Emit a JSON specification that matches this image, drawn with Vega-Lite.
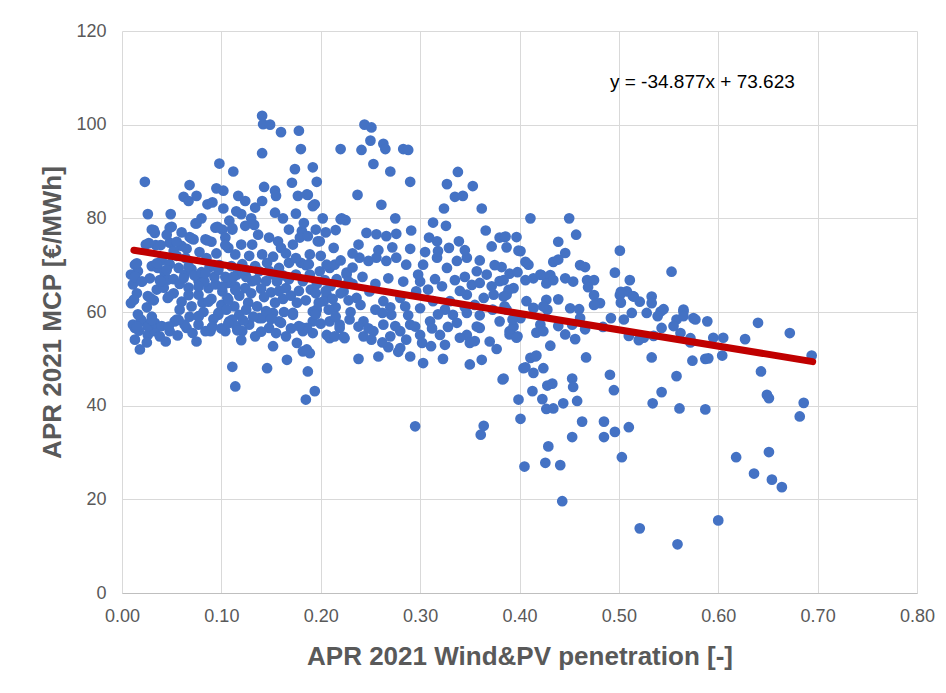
{
"$schema": "https://vega.github.io/schema/vega-lite/v6.json",
"width": 795, "height": 562,
"autosize": {"type": "none"},
"padding": {"left": 122, "top": 31, "right": 29, "bottom": 100},
"background": "white",
"config": {"view": {"stroke": null}, "font": "Liberation Sans"},
"datasets": {
"pts": [
{"x":0.141,"y":101.9},{"x":0.142,"y":100.1},{"x":0.149,"y":100.0},{"x":0.160,"y":98.4},{"x":0.178,"y":98.7},{"x":0.180,"y":94.8},{"x":0.141,"y":93.9},{"x":0.220,"y":94.8},{"x":0.098,"y":91.7},{"x":0.112,"y":90.0},{"x":0.174,"y":90.5},{"x":0.192,"y":90.9},{"x":0.171,"y":87.6},{"x":0.196,"y":87.8},{"x":0.023,"y":87.8},{"x":0.068,"y":87.1},{"x":0.062,"y":84.6},{"x":0.067,"y":83.7},{"x":0.075,"y":84.8},{"x":0.095,"y":86.4},{"x":0.102,"y":85.9},{"x":0.143,"y":86.7},{"x":0.154,"y":85.9},{"x":0.155,"y":84.8},{"x":0.177,"y":84.8},{"x":0.187,"y":85.0},{"x":0.026,"y":80.9},{"x":0.049,"y":80.9},{"x":0.086,"y":83.0},{"x":0.091,"y":83.4},{"x":0.102,"y":82.1},{"x":0.117,"y":84.8},{"x":0.124,"y":83.7},{"x":0.120,"y":80.9},{"x":0.134,"y":82.3},{"x":0.141,"y":83.7},{"x":0.154,"y":81.2},{"x":0.192,"y":82.6},{"x":0.202,"y":80.0},{"x":0.220,"y":79.8},{"x":0.225,"y":79.6},{"x":0.030,"y":77.6},{"x":0.033,"y":76.9},{"x":0.048,"y":78.0},{"x":0.074,"y":78.9},{"x":0.094,"y":78.0},{"x":0.101,"y":77.6},{"x":0.111,"y":77.6},{"x":0.124,"y":78.4},{"x":0.133,"y":78.6},{"x":0.168,"y":77.6},{"x":0.181,"y":77.3},{"x":0.195,"y":77.6},{"x":0.024,"y":74.4},{"x":0.034,"y":74.3},{"x":0.048,"y":74.8},{"x":0.060,"y":74.1},{"x":0.072,"y":75.5},{"x":0.084,"y":75.5},{"x":0.104,"y":75.9},{"x":0.107,"y":73.7},{"x":0.114,"y":72.3},{"x":0.120,"y":74.4},{"x":0.131,"y":74.4},{"x":0.141,"y":72.3},{"x":0.148,"y":75.9},{"x":0.157,"y":75.1},{"x":0.160,"y":73.7},{"x":0.172,"y":74.4},{"x":0.179,"y":75.9},{"x":0.187,"y":76.2},{"x":0.199,"y":75.1},{"x":0.213,"y":73.7},{"x":0.013,"y":70.1},{"x":0.016,"y":68.7},{"x":0.009,"y":68.0},{"x":0.011,"y":65.9},{"x":0.009,"y":61.9},{"x":0.030,"y":69.8},{"x":0.036,"y":69.4},{"x":0.043,"y":68.4},{"x":0.046,"y":66.9},{"x":0.026,"y":63.4},{"x":0.035,"y":64.8},{"x":0.046,"y":63.0},{"x":0.057,"y":69.4},{"x":0.063,"y":68.0},{"x":0.070,"y":69.1},{"x":0.077,"y":66.6},{"x":0.087,"y":65.1},{"x":0.077,"y":63.7},{"x":0.094,"y":65.9},{"x":0.101,"y":64.4},{"x":0.107,"y":66.2},{"x":0.116,"y":68.0},{"x":0.124,"y":65.1},{"x":0.131,"y":66.6},{"x":0.138,"y":68.7},{"x":0.145,"y":66.6},{"x":0.152,"y":68.0},{"x":0.158,"y":69.4},{"x":0.165,"y":65.1},{"x":0.175,"y":68.0},{"x":0.182,"y":66.6},{"x":0.189,"y":68.0},{"x":0.199,"y":68.7},{"x":0.209,"y":69.4},{"x":0.214,"y":70.1},{"x":0.226,"y":68.4},{"x":0.013,"y":56.6},{"x":0.020,"y":58.0},{"x":0.026,"y":55.1},{"x":0.033,"y":55.9},{"x":0.044,"y":53.7},{"x":0.053,"y":58.0},{"x":0.065,"y":56.6},{"x":0.077,"y":57.3},{"x":0.089,"y":55.9},{"x":0.097,"y":59.4},{"x":0.108,"y":58.0},{"x":0.118,"y":59.4},{"x":0.128,"y":57.3},{"x":0.138,"y":58.7},{"x":0.148,"y":56.6},{"x":0.158,"y":58.0},{"x":0.172,"y":59.4},{"x":0.182,"y":56.6},{"x":0.192,"y":58.0},{"x":0.206,"y":55.1},{"x":0.219,"y":56.6},
{"x":0.011,"y":57.3},{"x":0.019,"y":58.4},{"x":0.026,"y":56.9},{"x":0.033,"y":57.7},{"x":0.013,"y":54.1},{"x":0.018,"y":52.0},{"x":0.048,"y":55.9},{"x":0.055,"y":58.4},{"x":0.063,"y":57.3},{"x":0.071,"y":55.5},{"x":0.075,"y":53.7},{"x":0.077,"y":59.1},{"x":0.084,"y":55.9},{"x":0.090,"y":56.6},{"x":0.097,"y":59.8},{"x":0.104,"y":55.9},{"x":0.111,"y":58.4},{"x":0.121,"y":55.9},{"x":0.134,"y":54.8},{"x":0.141,"y":58.7},{"x":0.152,"y":59.8},{"x":0.152,"y":52.7},{"x":0.160,"y":57.7},{"x":0.165,"y":54.8},{"x":0.166,"y":49.8},{"x":0.172,"y":59.8},{"x":0.176,"y":53.4},{"x":0.182,"y":51.6},{"x":0.189,"y":51.2},{"x":0.192,"y":55.5},{"x":0.196,"y":60.5},{"x":0.111,"y":48.3},{"x":0.114,"y":44.1},{"x":0.146,"y":48.0},{"x":0.187,"y":47.3},{"x":0.194,"y":43.1},{"x":0.185,"y":41.3},{"x":0.209,"y":58.0},{"x":0.219,"y":57.3},{"x":0.224,"y":54.4},{"x":0.209,"y":54.4},
{"x":0.244,"y":100.0},{"x":0.251,"y":99.4},{"x":0.241,"y":94.6},{"x":0.250,"y":96.6},{"x":0.263,"y":95.9},{"x":0.265,"y":94.8},{"x":0.283,"y":94.8},{"x":0.288,"y":94.6},{"x":0.253,"y":91.6},{"x":0.270,"y":90.0},{"x":0.290,"y":87.8},{"x":0.237,"y":85.0},{"x":0.261,"y":82.9},{"x":0.338,"y":89.9},{"x":0.327,"y":87.3},{"x":0.335,"y":84.6},{"x":0.343,"y":84.8},{"x":0.353,"y":86.9},{"x":0.324,"y":82.1},{"x":0.362,"y":82.1},{"x":0.411,"y":80.0},{"x":0.221,"y":80.0},{"x":0.275,"y":80.0},{"x":0.186,"y":85.1},{"x":0.194,"y":83.0},{"x":0.313,"y":79.1},{"x":0.326,"y":78.4},{"x":0.291,"y":77.4},{"x":0.246,"y":76.9},{"x":0.256,"y":76.6},{"x":0.266,"y":76.2},{"x":0.276,"y":76.7},{"x":0.238,"y":74.4},{"x":0.197,"y":75.1},{"x":0.309,"y":75.9},{"x":0.317,"y":75.1},{"x":0.329,"y":73.7},{"x":0.339,"y":75.1},{"x":0.366,"y":77.4},{"x":0.372,"y":74.0},{"x":0.380,"y":75.9},{"x":0.385,"y":76.0},{"x":0.397,"y":76.0},{"x":0.401,"y":73.0},{"x":0.409,"y":70.1},{"x":0.421,"y":68.0},{"x":0.189,"y":72.3},{"x":0.206,"y":70.1},{"x":0.226,"y":68.0},{"x":0.239,"y":71.6},{"x":0.248,"y":70.9},{"x":0.256,"y":71.6},{"x":0.266,"y":70.9},{"x":0.276,"y":71.6},{"x":0.286,"y":70.1},{"x":0.303,"y":70.1},{"x":0.317,"y":71.6},{"x":0.327,"y":69.4},{"x":0.337,"y":70.9},{"x":0.347,"y":71.6},{"x":0.357,"y":68.7},{"x":0.367,"y":68.0},{"x":0.380,"y":66.6},{"x":0.394,"y":65.1},{"x":0.428,"y":66.6},{"x":0.192,"y":60.1},{"x":0.186,"y":56.6},{"x":0.229,"y":58.4},{"x":0.243,"y":58.0},{"x":0.253,"y":55.9},{"x":0.263,"y":57.3},{"x":0.271,"y":59.4},{"x":0.280,"y":55.9},{"x":0.290,"y":57.3},{"x":0.300,"y":55.1},{"x":0.310,"y":58.0},{"x":0.320,"y":55.1},{"x":0.333,"y":59.4},{"x":0.347,"y":55.1},{"x":0.360,"y":56.6},{"x":0.370,"y":53.7},{"x":0.380,"y":58.0},{"x":0.390,"y":55.9},{"x":0.401,"y":58.7},{"x":0.414,"y":60.9},{"x":0.421,"y":57.3},{"x":0.206,"y":63.7},{"x":0.223,"y":64.4},{"x":0.236,"y":63.0},{"x":0.249,"y":64.4},{"x":0.263,"y":62.3},{"x":0.280,"y":63.0},{"x":0.296,"y":64.4},{"x":0.313,"y":62.3},{"x":0.330,"y":62.3},{"x":0.347,"y":63.7},{"x":0.364,"y":63.0},{"x":0.374,"y":63.7},{"x":0.387,"y":63.7},{"x":0.407,"y":62.3},
{"x":0.203,"y":62.3},{"x":0.182,"y":55.9},{"x":0.186,"y":52.0},{"x":0.214,"y":54.8},{"x":0.223,"y":54.7},{"x":0.238,"y":56.9},{"x":0.243,"y":54.8},{"x":0.251,"y":54.1},{"x":0.238,"y":50.0},{"x":0.270,"y":54.8},{"x":0.280,"y":52.3},{"x":0.286,"y":54.1},{"x":0.290,"y":50.5},{"x":0.295,"y":56.9},{"x":0.302,"y":53.4},{"x":0.311,"y":52.7},{"x":0.303,"y":49.1},{"x":0.323,"y":50.0},{"x":0.295,"y":35.6},{"x":0.337,"y":57.7},{"x":0.347,"y":59.8},{"x":0.350,"y":53.4},{"x":0.357,"y":56.9},{"x":0.362,"y":49.8},{"x":0.350,"y":48.8},{"x":0.377,"y":52.1},{"x":0.364,"y":35.7},{"x":0.361,"y":33.8},{"x":0.383,"y":45.6},{"x":0.391,"y":55.5},{"x":0.398,"y":54.8},{"x":0.394,"y":56.9},{"x":0.399,"y":41.3},{"x":0.401,"y":37.2},{"x":0.405,"y":27.0},{"x":0.411,"y":50.2},{"x":0.416,"y":50.5},{"x":0.404,"y":48.0},{"x":0.414,"y":47.0},{"x":0.424,"y":48.0},{"x":0.413,"y":43.1},{"x":0.423,"y":41.4},{"x":0.428,"y":44.3},{"x":0.429,"y":31.3},{"x":0.426,"y":27.8},{"x":0.428,"y":60.5},
{"x":0.450,"y":80.0},{"x":0.457,"y":76.5},{"x":0.439,"y":75.0},{"x":0.386,"y":76.1},{"x":0.387,"y":73.8},{"x":0.399,"y":73.1},{"x":0.446,"y":72.6},{"x":0.434,"y":70.7},{"x":0.439,"y":71.2},{"x":0.406,"y":70.7},{"x":0.382,"y":69.6},{"x":0.461,"y":70.0},{"x":0.466,"y":69.6},{"x":0.501,"y":73.1},{"x":0.553,"y":68.6},{"x":0.496,"y":68.4},{"x":0.511,"y":66.8},{"x":0.406,"y":66.8},{"x":0.414,"y":67.2},{"x":0.422,"y":67.9},{"x":0.431,"y":67.9},{"x":0.427,"y":66.1},{"x":0.434,"y":66.8},{"x":0.446,"y":67.2},{"x":0.454,"y":66.5},{"x":0.468,"y":66.8},{"x":0.475,"y":66.8},{"x":0.384,"y":66.8},{"x":0.389,"y":64.7},{"x":0.384,"y":63.3},{"x":0.475,"y":63.6},{"x":0.481,"y":61.9},{"x":0.501,"y":63.6},{"x":0.508,"y":64.4},{"x":0.515,"y":63.3},{"x":0.521,"y":62.2},{"x":0.533,"y":63.3},{"x":0.533,"y":61.9},{"x":0.542,"y":60.1},{"x":0.528,"y":59.8},{"x":0.513,"y":59.8},{"x":0.505,"y":58.4},{"x":0.492,"y":58.7},{"x":0.565,"y":60.5},{"x":0.558,"y":58.4},{"x":0.575,"y":58.7},{"x":0.589,"y":58.0},{"x":0.427,"y":62.6},{"x":0.439,"y":62.7},{"x":0.424,"y":61.2},{"x":0.414,"y":60.8},{"x":0.451,"y":60.8},{"x":0.461,"y":58.7},{"x":0.453,"y":57.3},{"x":0.387,"y":60.5},{"x":0.393,"y":58.4},{"x":0.390,"y":55.2},{"x":0.397,"y":54.5},{"x":0.417,"y":55.6},{"x":0.424,"y":55.9},{"x":0.431,"y":52.8},{"x":0.439,"y":57.0},{"x":0.446,"y":55.2},{"x":0.456,"y":54.2},{"x":0.510,"y":54.9},{"x":0.525,"y":54.5},{"x":0.535,"y":54.9},{"x":0.543,"y":56.6},{"x":0.555,"y":57.0},{"x":0.572,"y":53.5},{"x":0.595,"y":54.5},{"x":0.605,"y":54.5},{"x":0.627,"y":54.2},{"x":0.533,"y":50.3},{"x":0.467,"y":50.3},{"x":0.574,"y":49.6},{"x":0.587,"y":50.0},{"x":0.590,"y":50.1},{"x":0.604,"y":50.7},{"x":0.417,"y":50.7},{"x":0.406,"y":48.2},{"x":0.384,"y":45.8},{"x":0.433,"y":44.7},{"x":0.453,"y":45.8},{"x":0.454,"y":44.0},{"x":0.491,"y":46.6},{"x":0.495,"y":43.3},{"x":0.558,"y":46.3},{"x":0.543,"y":42.9},{"x":0.427,"y":39.3},{"x":0.434,"y":39.4},{"x":0.444,"y":40.5},{"x":0.458,"y":41.0},{"x":0.534,"y":40.5},{"x":0.561,"y":39.4},{"x":0.587,"y":39.2},{"x":0.463,"y":36.6},{"x":0.485,"y":36.6},{"x":0.496,"y":34.4},{"x":0.485,"y":33.3},{"x":0.510,"y":35.4},{"x":0.453,"y":33.3},
{"x":0.441,"y":27.3},{"x":0.443,"y":19.6},{"x":0.503,"y":29.0},{"x":0.521,"y":13.8},{"x":0.559,"y":10.4},{"x":0.600,"y":15.5},
{"x":0.565,"y":60.1},{"x":0.565,"y":59.1},{"x":0.577,"y":58.4},{"x":0.640,"y":57.7},{"x":0.672,"y":55.5},{"x":0.562,"y":55.5},{"x":0.572,"y":54.4},{"x":0.643,"y":47.3},{"x":0.694,"y":50.7},{"x":0.649,"y":42.3},{"x":0.651,"y":41.6},{"x":0.686,"y":40.6},{"x":0.682,"y":37.7},{"x":0.618,"y":29.0},{"x":0.651,"y":30.1},{"x":0.636,"y":25.5},{"x":0.654,"y":24.2},{"x":0.664,"y":22.6},
{"x":0.502,"y":64.3},{"x":0.502,"y":62.0},{"x":0.514,"y":63.4},{"x":0.545,"y":60.6},{"x":0.539,"y":59.1},{"x":0.520,"y":54.0},{"x":0.484,"y":56.8},{"x":0.475,"y":61.5},{"x":0.469,"y":65.3},{"x":0.460,"y":60.6},{"x":0.466,"y":56.3},{"x":0.012,"y":62.6},
{"x":0.300,"y":66.5},{"x":0.315,"y":67.0},{"x":0.322,"y":65.5},{"x":0.335,"y":66.8},{"x":0.345,"y":67.5},{"x":0.352,"y":65.8},{"x":0.360,"y":66.2},{"x":0.372,"y":65.5},{"x":0.298,"y":68.0},{"x":0.283,"y":66.5},{"x":0.268,"y":67.2},{"x":0.255,"y":66.0},{"x":0.242,"y":67.5},{"x":0.232,"y":66.0},{"x":0.308,"y":64.8},{"x":0.340,"y":64.5},{"x":0.355,"y":61.5},{"x":0.325,"y":60.5},{"x":0.300,"y":60.8},{"x":0.285,"y":61.2},{"x":0.270,"y":61.0},{"x":0.255,"y":60.5},{"x":0.240,"y":61.5},{"x":0.228,"y":62.5},{"x":0.215,"y":61.0},{"x":0.305,"y":72.8},{"x":0.290,"y":73.5},{"x":0.272,"y":73.8},{"x":0.258,"y":73.2},{"x":0.232,"y":72.5},{"x":0.220,"y":71.0},{"x":0.318,"y":73.0},{"x":0.345,"y":73.2},{"x":0.360,"y":71.0},{"x":0.375,"y":70.0},{"x":0.390,"y":68.2},{"x":0.398,"y":68.5},{"x":0.373,"y":60.5},{"x":0.385,"y":61.2},{"x":0.360,"y":59.3},{"x":0.345,"y":61.0},{"x":0.318,"y":59.5},{"x":0.288,"y":59.3},{"x":0.262,"y":59.8},{"x":0.230,"y":60.0},{"x":0.215,"y":59.0},{"x":0.248,"y":56.5},{"x":0.275,"y":57.0},{"x":0.312,"y":56.5},{"x":0.328,"y":56.8},{"x":0.340,"y":54.5},{"x":0.355,"y":53.8},{"x":0.325,"y":53.0},{"x":0.268,"y":52.5},{"x":0.258,"y":50.5},{"x":0.278,"y":51.5},{"x":0.262,"y":53.5},
{"x":0.015,"y":64.0},{"x":0.020,"y":66.5},{"x":0.025,"y":61.0},{"x":0.028,"y":67.2},{"x":0.032,"y":62.5},{"x":0.038,"y":66.8},{"x":0.040,"y":71.0},{"x":0.042,"y":65.2},{"x":0.048,"y":70.2},{"x":0.052,"y":67.0},{"x":0.052,"y":64.0},{"x":0.058,"y":66.0},{"x":0.060,"y":62.2},{"x":0.064,"y":71.5},{"x":0.067,"y":65.2},{"x":0.070,"y":61.2},{"x":0.073,"y":67.8},{"x":0.080,"y":68.5},{"x":0.081,"y":62.0},{"x":0.083,"y":66.5},{"x":0.088,"y":69.5},{"x":0.090,"y":62.8},{"x":0.093,"y":67.5},{"x":0.098,"y":70.0},{"x":0.100,"y":61.5},{"x":0.104,"y":67.5},{"x":0.106,"y":63.0},{"x":0.110,"y":69.8},{"x":0.113,"y":61.2},{"x":0.114,"y":65.5},{"x":0.118,"y":63.5},{"x":0.121,"y":70.2},{"x":0.125,"y":67.5},{"x":0.127,"y":62.0},{"x":0.130,"y":64.0},{"x":0.134,"y":69.8},{"x":0.136,"y":61.2},{"x":0.140,"y":65.0},{"x":0.143,"y":63.2},{"x":0.146,"y":70.5},{"x":0.150,"y":64.2},{"x":0.154,"y":62.0},{"x":0.156,"y":66.5},{"x":0.162,"y":67.8},{"x":0.162,"y":62.8},{"x":0.168,"y":70.5},{"x":0.170,"y":63.5},{"x":0.178,"y":64.5},{"x":0.180,"y":70.5},{"x":0.185,"y":62.5},{"x":0.190,"y":64.8},{"x":0.196,"y":66.0},{"x":0.198,"y":62.0},{"x":0.204,"y":66.8},{"x":0.210,"y":65.5},{"x":0.216,"y":67.0},{"x":0.220,"y":64.0},{"x":0.228,"y":66.5},{"x":0.232,"y":69.5},
{"x":0.016,"y":59.5},{"x":0.030,"y":59.0},{"x":0.040,"y":57.0},{"x":0.058,"y":60.5},{"x":0.068,"y":59.0},{"x":0.082,"y":60.0},{"x":0.092,"y":58.5},{"x":0.105,"y":60.5},{"x":0.115,"y":57.0},{"x":0.125,"y":60.5},{"x":0.132,"y":59.0},{"x":0.145,"y":60.2},{"x":0.155,"y":55.5},{"x":0.163,"y":60.0},{"x":0.178,"y":57.0},{"x":0.200,"y":57.5},{"x":0.208,"y":60.5},{"x":0.120,"y":54.0},{"x":0.100,"y":56.5},{"x":0.140,"y":55.8},{"x":0.056,"y":55.0},{"x":0.038,"y":54.8},{"x":0.025,"y":53.5},{"x":0.017,"y":56.0},
{"x":0.055,"y":72.0},{"x":0.065,"y":73.5},{"x":0.078,"y":72.8},{"x":0.085,"y":71.5},{"x":0.095,"y":72.5},{"x":0.128,"y":72.0},{"x":0.137,"y":76.5},{"x":0.152,"y":71.8},{"x":0.165,"y":72.5},{"x":0.175,"y":71.5},{"x":0.185,"y":70.0},{"x":0.200,"y":72.0},{"x":0.090,"y":75.0},{"x":0.080,"y":80.0},{"x":0.108,"y":79.5},{"x":0.115,"y":81.5},{"x":0.130,"y":80.0},{"x":0.162,"y":80.0},{"x":0.175,"y":81.0},{"x":0.183,"y":79.0},{"x":0.045,"y":76.5},{"x":0.052,"y":73.0},{"x":0.060,"y":77.0},{"x":0.068,"y":76.0},{"x":0.205,"y":77.0},{"x":0.215,"y":77.5},
{"x":0.032,"y":77.5},{"x":0.050,"y":78.2},{"x":0.075,"y":78.9},{"x":0.096,"y":78.2},{"x":0.111,"y":77.9},{"x":0.027,"y":74.7},{"x":0.039,"y":74.3},{"x":0.055,"y":75.0},{"x":0.070,"y":75.7},{"x":0.086,"y":75.3},{"x":0.104,"y":74.3},{"x":0.015,"y":70.4},{"x":0.035,"y":70.4},{"x":0.045,"y":69.0},{"x":0.067,"y":69.7},{"x":0.084,"y":68.3},{"x":0.097,"y":69.0},{"x":0.112,"y":67.5},{"x":0.013,"y":67.5},{"x":0.020,"y":66.5},{"x":0.039,"y":66.5},{"x":0.062,"y":67.2},{"x":0.077,"y":65.4},{"x":0.101,"y":65.4},{"x":0.114,"y":64.7},{"x":0.012,"y":62.6},{"x":0.029,"y":62.9},{"x":0.047,"y":63.3},{"x":0.067,"y":63.6},{"x":0.087,"y":62.2},{"x":0.107,"y":62.6},{"x":0.015,"y":56.9},{"x":0.030,"y":58.3},{"x":0.047,"y":56.9},{"x":0.057,"y":58.3},{"x":0.077,"y":59.0},{"x":0.091,"y":56.9},{"x":0.107,"y":57.6},{"x":0.116,"y":56.1},
{"x":0.125,"y":69.0},{"x":0.135,"y":66.8},{"x":0.148,"y":68.8},{"x":0.158,"y":64.5},{"x":0.168,"y":67.0},{"x":0.176,"y":62.0},{"x":0.188,"y":70.2},{"x":0.195,"y":64.0},{"x":0.205,"y":64.5},{"x":0.212,"y":62.8},{"x":0.122,"y":58.2},{"x":0.150,"y":58.5},{"x":0.170,"y":56.5},{"x":0.195,"y":59.5}
],
"trend": [{"x":0.012,"y":73.2},{"x":0.695,"y":49.4}],
"eq": [{"x":0.491,"y":109.1,"label":"y = -34.877x + 73.623"}]
},
"layer": [
{"data": {"name": "pts"},
 "mark": {"type": "circle", "color": "#4472C4", "opacity": 1, "size": 115},
 "encoding": {
  "x": {"field": "x", "type": "quantitative",
        "scale": {"domain": [0, 0.8], "nice": false, "zero": false},
        "axis": {"title": "APR 2021 Wind&PV penetration [-]", "values": [0,0.1,0.2,0.3,0.4,0.5,0.6,0.7,0.8], "format": ".2f",
                 "grid": true, "gridColor": "#D9D9D9", "ticks": false, "tickSize": 0, "domainColor": "#BFBFBF",
                 "labelFont": "Liberation Sans", "labelFontSize": 18, "labelColor": "#595959", "labelPadding": 14,
                 "labelOverlap": false, "labelFlush": false,
                 "titleFont": "Liberation Sans", "titleFontSize": 26, "titleFontWeight": "bold", "titleColor": "#595959",
                 "titleY": 63, "titleBaseline": "middle"}},
  "y": {"field": "y", "type": "quantitative",
        "scale": {"domain": [0, 120], "nice": false},
        "axis": {"title": "APR 2021 MCP [€/MWh]", "values": [0,20,40,60,80,100,120],
                 "grid": true, "gridColor": "#D9D9D9", "domain": false, "ticks": false, "tickSize": 0,
                 "labelFont": "Liberation Sans", "labelFontSize": 18, "labelColor": "#595959", "labelPadding": 16,
                 "labelOverlap": false, "labelFlush": false,
                 "titleFont": "Liberation Sans", "titleFontSize": 26, "titleFontWeight": "bold", "titleColor": "#595959",
                 "titleX": -70, "titleBaseline": "middle"}}
 }},
{"data": {"name": "trend"},
 "mark": {"type": "line", "color": "#C00000", "strokeWidth": 7, "strokeCap": "round"},
 "encoding": {"x": {"field": "x", "type": "quantitative"}, "y": {"field": "y", "type": "quantitative"}}},
{"data": {"name": "eq"},
 "mark": {"type": "text", "align": "left", "baseline": "middle", "fontSize": 19, "color": "#000000", "font": "Liberation Sans"},
 "encoding": {"x": {"field": "x", "type": "quantitative"}, "y": {"field": "y", "type": "quantitative"}, "text": {"field": "label"}}}
]
}
